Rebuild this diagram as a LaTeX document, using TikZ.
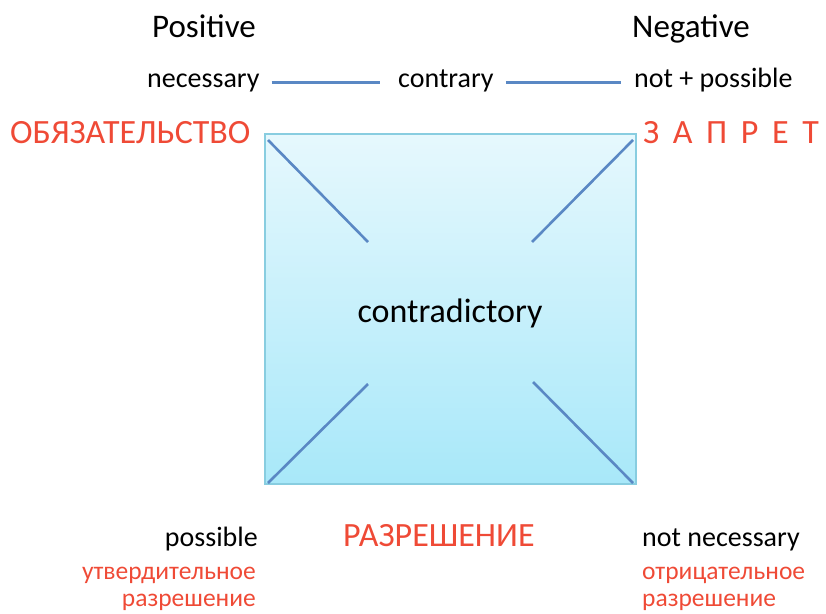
\documentclass[tikz,border=0pt]{standalone}
\usepackage{fontspec}
\setmainfont{Carlito}
\usetikzlibrary{calc}
\definecolor{lineblue}{HTML}{5A88C4}
\definecolor{redtxt}{HTML}{EF4A36}
\definecolor{boxtop}{HTML}{E6F8FD}
\definecolor{boxbot}{HTML}{A8E8F9}
\definecolor{boxedge}{HTML}{88CDE0}
\tikzset{
  txt/.style={inner sep=0pt, font=\fontsize{28}{30}\selectfont, text=black},
  head/.style={inner sep=0pt, font=\fontsize{33}{36}\selectfont, text=black},
  mid/.style={inner sep=0pt, font=\fontsize{34}{36}\selectfont, text=black},
  bigred/.style={inner sep=0pt, font=\fontsize{34}{36}\selectfont, text=redtxt},
  smallred/.style={inner sep=0pt, font=\fontsize{25.5}{27}\selectfont, text=redtxt},
  conn/.style={draw=lineblue, line width=3pt},
  diag/.style={draw=lineblue, line width=2.6pt},
}
\begin{document}
\begin{tikzpicture}[x=1pt,y=-1pt]
\useasboundingbox (0,0) rectangle (826,613);
% square
\node[draw=boxedge, line width=1.5pt, top color=boxtop, bottom color=boxbot,
      minimum width=371pt, minimum height=350pt, inner sep=0pt] (sq) at (450.5,309) {};
\draw[diag] (268,140) -- (368,242);
\draw[diag] (633,140) -- (532,242);
\draw[diag] (268,483) -- (368,384);
\draw[diag] (633,483) -- (533,382);
\node[mid, anchor=base] (cd) at (450,322) {contradictory};
% headers
\node[head, anchor=base west] (pos) at (152,37) {Positive};
\node[head, anchor=base west] (neg) at (632,37) {Negative};
\node[txt, anchor=base west] (nec) at (147,87) {necessary};
\node[txt, anchor=base west] (con) at (398,87) {contrary};
\node[txt, anchor=base west] (nposs) at (634,87) {not + possible};
\draw[conn, shorten <=12pt, shorten >=18pt] ([yshift=5pt]nec.base east) -- ([yshift=5pt]con.base west);
\draw[conn, shorten <=12pt, shorten >=13pt] ([yshift=5pt]con.base east) -- ([yshift=5pt]nposs.base west);
\node[bigred, anchor=base west] (obl) at (10,143) {ОБЯЗАТЕЛЬСТВО};
\node[bigred, anchor=base west] (zap) at (643,143) {З\hspace{0.4em}А\hspace{0.4em}П\hspace{0.4em}Р\hspace{0.4em}Е\hspace{0.4em}Т};
% bottom
\node[txt, anchor=base east] (poss) at (258,546) {possible};
\node[smallred, anchor=base east] (ut1) at (256,579) {утвердительное};
\node[smallred, anchor=base east] (ut2) at (256,606) {разрешение};
\node[bigred, anchor=base west] (raz) at (343,546) {РАЗРЕШЕНИЕ};
\node[txt, anchor=base west] (nnec) at (642,546) {not necessary};
\node[smallred, anchor=base west] (ot1) at (642,579) {отрицательное};
\node[smallred, anchor=base west] (ot2) at (642,606) {разрешение};
\end{tikzpicture}
\end{document}
